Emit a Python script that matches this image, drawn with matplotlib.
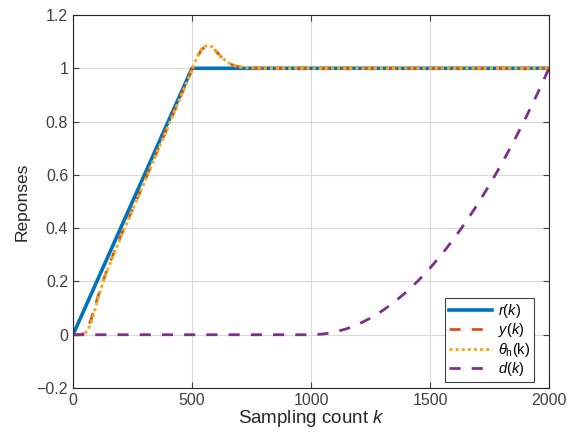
import matplotlib
matplotlib.use("Agg")
import matplotlib.pyplot as plt

plt.rcParams['font.family'] = ['Liberation Sans', 'DejaVu Sans']
plt.rcParams['mathtext.fontset'] = 'custom'
plt.rcParams['mathtext.it'] = 'Liberation Sans:italic'
plt.rcParams['mathtext.rm'] = 'Liberation Sans'

# reference r(k): ramp to 1 at k=500, then held
k_r = [0, 500, 2000]
r_vals = [0.0, 1.0, 1.0]

# output y(k)
k_y = [0, 25, 45, 60, 75, 100, 125, 150, 200, 250, 300, 350, 400, 450, 500,
       520, 540, 555, 570, 585, 600, 620, 640, 660, 680, 700, 730, 760, 800, 2000]
y_vals = [0.0, 0.0, 0.005, 0.025, 0.055, 0.13, 0.2, 0.26, 0.37, 0.47, 0.575,
          0.68, 0.785, 0.89, 0.995, 1.04, 1.07, 1.08, 1.083, 1.078, 1.065,
          1.045, 1.028, 1.016, 1.009, 1.005, 1.002, 1.001, 1.0, 1.0]

# estimate theta_h(k)
k_th = [0, 30, 50, 65, 80, 100, 125, 150, 200, 250, 300, 350, 400, 450, 500,
        520, 540, 555, 570, 585, 600, 620, 640, 660, 680, 700, 730, 760, 800, 2000]
th_vals = [0.0, 0.0, 0.004, 0.022, 0.055, 0.12, 0.195, 0.255, 0.366, 0.468, 0.573,
           0.678, 0.783, 0.888, 0.993, 1.04, 1.072, 1.083, 1.086, 1.08, 1.066,
           1.046, 1.029, 1.017, 1.01, 1.005, 1.002, 1.001, 1.0, 1.0]

# disturbance d(k)
k_d = [0, 1000, 1050, 1100, 1150, 1200, 1250, 1300, 1350, 1400, 1450, 1500,
       1550, 1600, 1650, 1700, 1750, 1800, 1850, 1900, 1950, 2000]
d_vals = [0.0, 0.0, 0.0025, 0.01, 0.0225, 0.04, 0.0625, 0.09, 0.1225, 0.16,
          0.2025, 0.25, 0.3025, 0.36, 0.4225, 0.49, 0.5625, 0.64, 0.7225,
          0.81, 0.9025, 1.0]

fig = plt.figure(figsize=(5.8, 4.37), dpi=100)
ax = fig.add_axes([0.1259, 0.1121, 0.8207, 0.8536])

ax.plot(k_r, r_vals, color='#0072BD', lw=2.6, label='$r(k)$')
ax.plot(k_y, y_vals, color='#D95319', lw=2.0, ls=(0, (4, 4)), label='$y(k)$')
ax.plot(k_th, th_vals, color='#EDB120', lw=2.2, ls=(0, (1, 1)),
        label=r'$\theta_{\mathrm{h}}\mathrm{(k)}$')
ax.plot(k_d, d_vals, color='#7E2F8E', lw=2.0, ls=(0, (4, 4)), label='$d(k)$')

ax.set_xlim(0, 2000)
ax.set_ylim(-0.2, 1.2)
ax.set_xticks([0, 500, 1000, 1500, 2000])
ax.set_yticks([-0.2, 0, 0.2, 0.4, 0.6, 0.8, 1.0, 1.2])
ax.set_yticklabels(['\u22120.2', '0', '0.2', '0.4', '0.6', '0.8', '1', '1.2'])
ax.grid(True, color='#d9d9d9', lw=0.8)
ax.set_axisbelow(True)
for s in ax.spines.values():
    s.set_color('#262626')
    s.set_linewidth(0.8)
ax.tick_params(direction='in', length=4, colors='#404040', labelsize=11.5,
               top=True, right=True, width=0.8)
ax.set_xlabel('Sampling count $k$', fontsize=13.5, color='#262626', labelpad=0)
ax.set_ylabel('Reponses', fontsize=12.5, color='#262626', labelpad=5)

leg = ax.legend(loc='lower right', bbox_to_anchor=(0.9685, 0.016),
                borderaxespad=0, fontsize=10.5, frameon=True, fancybox=False,
                edgecolor='#404040', framealpha=1, handlelength=3.0,
                handletextpad=0.4, labelspacing=0.1, borderpad=0.25)
leg.get_frame().set_linewidth(0.8)

fig.savefig('out.png', dpi=100)
